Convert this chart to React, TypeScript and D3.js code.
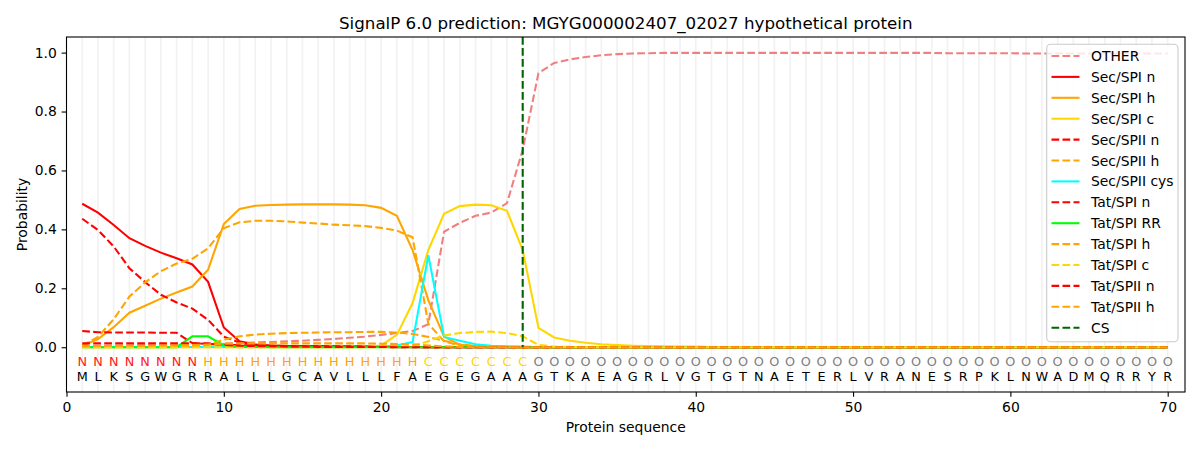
import { useEffect, useRef } from 'react';
import * as d3 from 'd3';

// amino acid sequence and predicted region per residue
const sequence = 'MLKSGWGRRALLLGCAVLLLFAEGEGAAAGTKAEAGRLVGTGTNAETERLVRANESRPKLNWADMQRRYR'.split('');
const regions = ('NNNNNNNN' + 'HHHHHHHHHHHHHH' + 'CCCCCCC' + 'OOOOOOOOOOOOOOOOOOOOOOOOOOOOOOOOOOOOOOOOO').split('');
const cleavageSite = 29;

const xTicks = [0, 10, 20, 30, 40, 50, 60, 70];
const yTicks = [0, 0.2, 0.4, 0.6, 0.8, 1.0];

const other = [
  0.003, 0.004, 0.005, 0.006, 0.007, 0.008, 0.009, 0.010, 0.011, 0.012,
  0.014, 0.016, 0.018, 0.020, 0.022, 0.025, 0.028, 0.032, 0.036, 0.042,
  0.048, 0.055, 0.078, 0.392, 0.422, 0.446, 0.457, 0.489, 0.670, 0.930,
  0.965, 0.977, 0.985, 0.991, 0.995, 0.997, 0.998, 0.999, 0.999, 0.999,
  0.999, 0.999, 0.999, 0.999, 0.999, 0.999, 0.999, 0.999, 0.999, 0.999,
  0.999, 0.999, 0.999, 0.999, 0.999, 0.998, 0.998, 0.998, 0.998, 0.998,
  0.997, 0.997, 0.997, 0.997, 0.997, 0.997, 0.997, 0.997, 0.997, 0.997,
];
const secSpiN = [
  0.487, 0.457, 0.415, 0.370, 0.344, 0.321, 0.302, 0.281, 0.222, 0.067,
  0.020, 0.009, 0.006, 0.004, 0.003, 0.003, 0.002, 0.002, 0.002, 0.002,
  0.001, 0.001, 0, 0, 0, 0, 0, 0, 0, 0,
  0, 0, 0, 0, 0, 0, 0, 0, 0, 0,
  0, 0, 0, 0, 0, 0, 0, 0, 0, 0,
  0, 0, 0, 0, 0, 0, 0, 0, 0, 0,
  0, 0, 0, 0, 0, 0, 0, 0, 0, 0,
];
const secSpiH = [
  0.005, 0.028, 0.068, 0.117, 0.141, 0.165, 0.186, 0.206, 0.263, 0.418,
  0.469, 0.480, 0.483, 0.484, 0.485, 0.485, 0.485, 0.484, 0.482, 0.473,
  0.446, 0.330, 0.160, 0.036, 0.008, 0.003, 0.002, 0.001, 0, 0,
  0, 0, 0, 0, 0, 0, 0, 0, 0, 0,
  0, 0, 0, 0, 0, 0, 0, 0, 0, 0,
  0, 0, 0, 0, 0, 0, 0, 0, 0, 0,
  0, 0, 0, 0, 0, 0, 0, 0, 0, 0,
];
const secSpiC = [
  0, 0, 0, 0, 0, 0, 0, 0, 0, 0,
  0, 0, 0, 0, 0, 0, 0, 0, 0.001, 0.006,
  0.042, 0.150, 0.330, 0.453, 0.479, 0.484, 0.482, 0.463, 0.330, 0.066,
  0.033, 0.022, 0.015, 0.010, 0.007, 0.005, 0.004, 0.003, 0.002, 0.002,
  0.001, 0.001, 0.001, 0.001, 0.001, 0.001, 0.001, 0.001, 0.001, 0.001,
  0.001, 0.001, 0.001, 0.001, 0.001, 0.001, 0.001, 0.001, 0.001, 0.001,
  0.001, 0.001, 0.001, 0.001, 0.001, 0.001, 0.001, 0.001, 0.001, 0.001,
];
const secSpiiN = [
  0.436, 0.398, 0.342, 0.268, 0.221, 0.178, 0.152, 0.131, 0.093, 0.036,
  0.016, 0.008, 0.005, 0.004, 0.003, 0.003, 0.002, 0.002, 0.002, 0.001,
  0.001, 0.001, 0, 0, 0, 0, 0, 0, 0, 0,
  0, 0, 0, 0, 0, 0, 0, 0, 0, 0,
  0, 0, 0, 0, 0, 0, 0, 0, 0, 0,
  0, 0, 0, 0, 0, 0, 0, 0, 0, 0,
  0, 0, 0, 0, 0, 0, 0, 0, 0, 0,
];
const secSpiiH = [
  0.005, 0.035, 0.095, 0.172, 0.220, 0.258, 0.284, 0.300, 0.336, 0.404,
  0.424, 0.429, 0.429, 0.427, 0.423, 0.420, 0.416, 0.414, 0.411, 0.405,
  0.396, 0.373, 0.080, 0.020, 0.006, 0.003, 0.002, 0.001, 0, 0,
  0, 0, 0, 0, 0, 0, 0, 0, 0, 0,
  0, 0, 0, 0, 0, 0, 0, 0, 0, 0,
  0, 0, 0, 0, 0, 0, 0, 0, 0, 0,
  0, 0, 0, 0, 0, 0, 0, 0, 0, 0,
];
const secSpiiCys = [
  0.001, 0.001, 0.001, 0.001, 0.001, 0.001, 0.001, 0.001, 0.001, 0.001,
  0.001, 0.001, 0.001, 0.001, 0.001, 0.001, 0.001, 0.001, 0.001, 0.003,
  0.006, 0.018, 0.312, 0.035, 0.022, 0.010, 0.005, 0.003, 0.002, 0.001,
  0, 0, 0, 0, 0, 0, 0, 0, 0, 0,
  0, 0, 0, 0, 0, 0, 0, 0, 0, 0,
  0, 0, 0, 0, 0, 0, 0, 0, 0, 0,
  0, 0, 0, 0, 0, 0, 0, 0, 0, 0,
];
const tatSpiN = [
  0.055, 0.051, 0.050, 0.050, 0.050, 0.049, 0.049, 0.014, 0.011, 0.009,
  0.007, 0.005, 0.004, 0.003, 0.003, 0.002, 0.002, 0.002, 0.001, 0.001,
  0, 0, 0, 0, 0, 0, 0, 0, 0, 0,
  0, 0, 0, 0, 0, 0, 0, 0, 0, 0,
  0, 0, 0, 0, 0, 0, 0, 0, 0, 0,
  0, 0, 0, 0, 0, 0, 0, 0, 0, 0,
  0, 0, 0, 0, 0, 0, 0, 0, 0, 0,
];
const tatSpiRR = [
  0, 0, 0, 0, 0, 0, 0, 0.037, 0.037, 0.006,
  0.002, 0.001, 0, 0, 0, 0, 0, 0, 0, 0,
  0, 0, 0, 0, 0, 0, 0, 0, 0, 0,
  0, 0, 0, 0, 0, 0, 0, 0, 0, 0,
  0, 0, 0, 0, 0, 0, 0, 0, 0, 0,
  0, 0, 0, 0, 0, 0, 0, 0, 0, 0,
  0, 0, 0, 0, 0, 0, 0, 0, 0, 0,
];
const tatSpiH = [
  0.002, 0.002, 0.002, 0.002, 0.002, 0.002, 0.002, 0.003, 0.008, 0.026,
  0.037, 0.043, 0.046, 0.048, 0.049, 0.050, 0.051, 0.051, 0.052, 0.052,
  0.050, 0.045, 0.035, 0.022, 0.010, 0.004, 0.002, 0.001, 0, 0,
  0, 0, 0, 0, 0, 0, 0, 0, 0, 0,
  0, 0, 0, 0, 0, 0, 0, 0, 0, 0,
  0, 0, 0, 0, 0, 0, 0, 0, 0, 0,
  0, 0, 0, 0, 0, 0, 0, 0, 0, 0,
];
const tatSpiC = [
  0, 0, 0, 0, 0, 0, 0, 0, 0, 0,
  0, 0, 0, 0, 0, 0, 0, 0, 0, 0,
  0.001, 0.005, 0.020, 0.040, 0.048, 0.052, 0.053, 0.048, 0.037, 0.008,
  0.002, 0.001, 0, 0, 0, 0, 0, 0, 0, 0,
  0, 0, 0, 0, 0, 0, 0, 0, 0, 0,
  0, 0, 0, 0, 0, 0, 0, 0, 0, 0,
  0, 0, 0, 0, 0, 0, 0, 0, 0, 0,
];
const tatSpiiN = [
  0.013, 0.013, 0.013, 0.013, 0.013, 0.013, 0.013, 0.013, 0.013, 0.008,
  0.005, 0.004, 0.003, 0.002, 0.002, 0.001, 0.001, 0.001, 0.001, 0.001,
  0, 0, 0, 0, 0, 0, 0, 0, 0, 0,
  0, 0, 0, 0, 0, 0, 0, 0, 0, 0,
  0, 0, 0, 0, 0, 0, 0, 0, 0, 0,
  0, 0, 0, 0, 0, 0, 0, 0, 0, 0,
  0, 0, 0, 0, 0, 0, 0, 0, 0, 0,
];
const tatSpiiH = [
  0.003, 0.004, 0.005, 0.005, 0.005, 0.006, 0.006, 0.007, 0.009, 0.012,
  0.013, 0.013, 0.013, 0.013, 0.013, 0.013, 0.013, 0.013, 0.013, 0.012,
  0.011, 0.010, 0.006, 0.003, 0.001, 0, 0, 0, 0, 0,
  0, 0, 0, 0, 0, 0, 0, 0, 0, 0,
  0, 0, 0, 0, 0, 0, 0, 0, 0, 0,
  0, 0, 0, 0, 0, 0, 0, 0, 0, 0,
  0, 0, 0, 0, 0, 0, 0, 0, 0, 0,
];

const series = [
  { name: 'OTHER', values: other, color: '#f08080', dashed: true },
  { name: 'Sec/SPI n', values: secSpiN, color: '#ff0000', dashed: false },
  { name: 'Sec/SPI h', values: secSpiH, color: '#ffa500', dashed: false },
  { name: 'Sec/SPI c', values: secSpiC, color: '#ffd700', dashed: false },
  { name: 'Sec/SPII n', values: secSpiiN, color: '#ff0000', dashed: true },
  { name: 'Sec/SPII h', values: secSpiiH, color: '#ffa500', dashed: true },
  { name: 'Sec/SPII cys', values: secSpiiCys, color: '#00ffff', dashed: false },
  { name: 'Tat/SPI n', values: tatSpiN, color: '#ff0000', dashed: true },
  { name: 'Tat/SPI RR', values: tatSpiRR, color: '#00ff00', dashed: false },
  { name: 'Tat/SPI h', values: tatSpiH, color: '#ffa500', dashed: true },
  { name: 'Tat/SPI c', values: tatSpiC, color: '#ffd700', dashed: true },
  { name: 'Tat/SPII n', values: tatSpiiN, color: '#ff0000', dashed: true },
  { name: 'Tat/SPII h', values: tatSpiiH, color: '#ffa500', dashed: true },
];

const regionColor: Record<string, string> = {
  N: '#ff2020',
  H: '#ffa500',
  C: '#ffd700',
  O: '#808080',
};

const W = 1200;
const H = 450;
const FONT = '"DejaVu Sans", sans-serif';
const DASH = '7.7,3.3';

export default function App() {
  const ref = useRef<SVGSVGElement | null>(null);

  useEffect(() => {
    document.body.style.margin = '0';
    const svg = d3.select(ref.current);
    svg.selectAll('*').remove();

    const left = 66.5, right = 1185, top = 37, bottom = 392;
    const x = d3.scaleLinear().domain([0, 71.1]).range([left, right]);
    const y = d3.scaleLinear().domain([-0.152, 1.053]).range([bottom, top]);

    svg.append('rect').attr('width', W).attr('height', H).attr('fill', '#fff');

    // light vertical grid at every residue
    svg.append('g')
      .selectAll('line')
      .data(sequence)
      .enter()
      .append('line')
      .attr('x1', (_, i) => x(i + 1))
      .attr('x2', (_, i) => x(i + 1))
      .attr('y1', top)
      .attr('y2', bottom)
      .attr('stroke', '#f2f2f2')
      .attr('stroke-width', 1.7);

    const line = d3.line<number>()
      .x((_, i) => x(i + 1))
      .y(d => y(d));

    const g = svg.append('g');
    series.forEach(s => {
      g.append('path')
        .attr('d', line(s.values))
        .attr('fill', 'none')
        .attr('stroke', s.color)
        .attr('stroke-width', 2.08)
        .attr('stroke-dasharray', s.dashed ? DASH : null);
    });

    // cleavage site
    g.append('line')
      .attr('x1', x(cleavageSite))
      .attr('x2', x(cleavageSite))
      .attr('y1', y(1.053))
      .attr('y2', y(0))
      .attr('stroke', '#006400')
      .attr('stroke-width', 2.08)
      .attr('stroke-dasharray', DASH);

    // residue letters
    svg.append('g')
      .selectAll('text')
      .data(regions)
      .enter()
      .append('text')
      .attr('x', (_, i) => x(i + 1))
      .attr('y', y(-0.047))
      .attr('text-anchor', 'middle')
      .attr('dominant-baseline', 'central')
      .attr('font-family', FONT)
      .attr('font-size', 12.8)
      .attr('fill', d => regionColor[d])
      .text(d => d);

    svg.append('g')
      .selectAll('text')
      .data(sequence)
      .enter()
      .append('text')
      .attr('x', (_, i) => x(i + 1))
      .attr('y', y(-0.099))
      .attr('text-anchor', 'middle')
      .attr('dominant-baseline', 'central')
      .attr('font-family', FONT)
      .attr('font-size', 12.8)
      .attr('fill', '#000')
      .text(d => d);

    // axes
    const xAxis = svg.append('g')
      .attr('transform', `translate(0,${bottom})`)
      .call(d3.axisBottom(x).tickValues(xTicks).tickFormat(d3.format('d')).tickSize(4.86).tickPadding(4.86));
    const yAxis = svg.append('g')
      .attr('transform', `translate(${left},0)`)
      .call(d3.axisLeft(y).tickValues(yTicks).tickFormat(d3.format('.1f')).tickSize(4.86).tickPadding(4.86));
    [xAxis, yAxis].forEach(a => {
      a.select('.domain').remove();
      a.selectAll('line').attr('stroke', '#000').attr('stroke-width', 1.1);
      a.selectAll('text').attr('font-family', FONT).attr('font-size', 13.9).attr('fill', '#000');
    });

    svg.append('rect')
      .attr('x', left)
      .attr('y', top)
      .attr('width', right - left)
      .attr('height', bottom - top)
      .attr('fill', 'none')
      .attr('stroke', '#000')
      .attr('stroke-width', 1.1);

    // titles
    svg.append('text')
      .attr('x', (left + right) / 2)
      .attr('y', 23)
      .attr('text-anchor', 'middle')
      .attr('dominant-baseline', 'central')
      .attr('font-family', FONT)
      .attr('font-size', 16.7)
      .text('SignalP 6.0 prediction: MGYG000002407_02027 hypothetical protein');

    svg.append('text')
      .attr('x', (left + right) / 2)
      .attr('y', 427)
      .attr('text-anchor', 'middle')
      .attr('dominant-baseline', 'central')
      .attr('font-family', FONT)
      .attr('font-size', 13.9)
      .text('Protein sequence');

    svg.append('text')
      .attr('transform', `translate(22,${(top + bottom) / 2}) rotate(-90)`)
      .attr('text-anchor', 'middle')
      .attr('dominant-baseline', 'central')
      .attr('font-family', FONT)
      .attr('font-size', 13.9)
      .text('Probability');

    // legend
    const entries = [
      ...series.map(s => ({ name: s.name, color: s.color, dashed: s.dashed })),
      { name: 'CS', color: '#006400', dashed: true },
    ];
    const lg = svg.append('g');
    lg.append('rect')
      .attr('x', 1046.7)
      .attr('y', 44.3)
      .attr('width', 131.3)
      .attr('height', 297.4)
      .attr('rx', 4)
      .attr('fill', '#fff')
      .attr('fill-opacity', 0.8)
      .attr('stroke', '#cccccc')
      .attr('stroke-width', 1.1);
    entries.forEach((e, i) => {
      const cy = 56 + i * 20.9;
      lg.append('line')
        .attr('x1', 1051.5)
        .attr('x2', 1079.5)
        .attr('y1', cy)
        .attr('y2', cy)
        .attr('stroke', e.color)
        .attr('stroke-width', 2.08)
        .attr('stroke-dasharray', e.dashed ? DASH : null);
      lg.append('text')
        .attr('x', 1091)
        .attr('y', cy)
        .attr('dominant-baseline', 'central')
        .attr('font-family', FONT)
        .attr('font-size', 13.9)
        .attr('fill', '#000')
        .text(e.name);
    });
  }, []);

  return <svg ref={ref} width={W} height={H} style={{ display: 'block' }} />;
}
